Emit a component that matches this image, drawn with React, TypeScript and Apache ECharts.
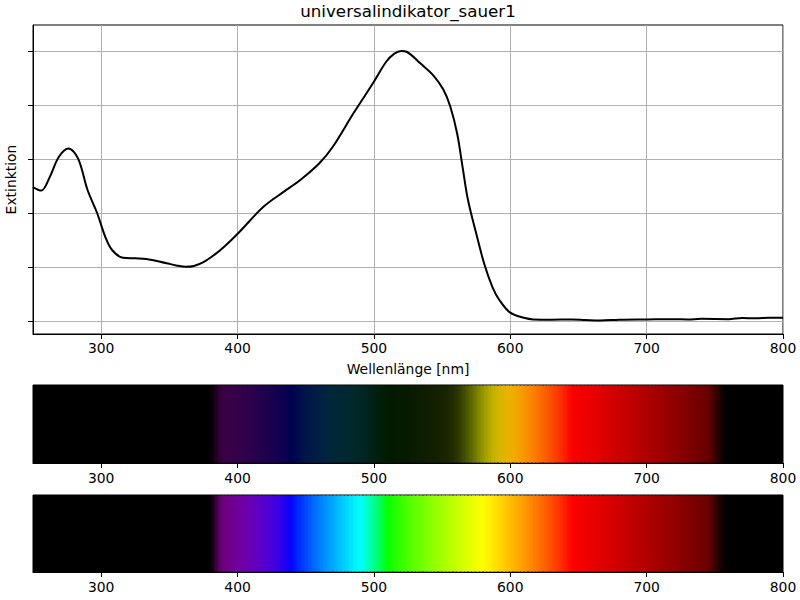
import React, { useEffect, useRef } from "react";
import * as echarts from "echarts";

const chartTitle = "universalindikator_sauer1";
const xName = "Wellenlänge [nm]";
const yName = "Extinktion";

const wavelengths = [
  250, 256, 262, 269, 276, 283, 290, 297, 303, 308, 316, 325, 333, 348, 355,
  362, 368, 375, 383, 390, 401, 419, 434, 446, 460, 470, 485, 500, 509, 515,
  520, 524, 534, 544, 551, 556, 561, 565, 569, 575, 581, 587, 592, 600, 610,
  617, 630, 645, 655, 666, 680, 700, 720, 730, 740, 760, 770, 780, 790, 800,
];
const extinction = [
  0.496, 0.483, 0.53, 0.608, 0.639, 0.602, 0.485, 0.4, 0.312, 0.263, 0.234, 0.232, 0.23, 0.214, 0.206,
  0.201, 0.204, 0.218, 0.245, 0.274, 0.328, 0.423, 0.479, 0.522, 0.584, 0.646, 0.769, 0.886, 0.96, 0.99,
  1.0, 0.997, 0.954, 0.907, 0.856, 0.794, 0.695, 0.571, 0.448, 0.325, 0.21, 0.125, 0.078, 0.031, 0.012,
  0.006, 0.005, 0.006, 0.004, 0.002, 0.005, 0.006, 0.007, 0.006, 0.008, 0.007, 0.011, 0.01, 0.012, 0.012,
];
const xTicks = [300, 400, 500, 600, 700, 800];
const yTicks = [0, 0.2, 0.4, 0.6, 0.8, 1.0];
const X_MIN = 250;
const X_MAX = 800;
const Y_MIN = -0.048;
const Y_MAX = 1.096;

const FONT = "DejaVu Sans";

function clamp(v: number, a: number, b: number) {
  return Math.max(a, Math.min(b, v));
}

function spectrumRGB(lIn: number): number[] {
  const g = 0.8;
  const l = clamp(lIn, 380, 750);
  let r = 0, gr = 0, b = 0;
  if (l >= 380 && l <= 440) {
    const a = 0.3 + (0.7 * (l - 380)) / 60;
    r = Math.pow(((440 - l) / 60) * a, g);
    b = Math.pow(a, g);
  } else if (l > 440 && l <= 490) {
    gr = Math.pow((l - 440) / 50, g);
    b = 1;
  } else if (l > 490 && l <= 510) {
    gr = 1;
    b = Math.pow((510 - l) / 20, g);
  } else if (l > 510 && l <= 580) {
    r = Math.pow((l - 510) / 70, g);
    gr = 1;
  } else if (l > 580 && l <= 645) {
    r = 1;
    gr = Math.pow((645 - l) / 65, g);
  } else {
    const a = 0.3 + (0.7 * (750 - l)) / 105;
    r = Math.pow(a, g);
  }
  const mask = clamp((lIn - 380) / 8, 0, 1) * clamp((758 - lIn) / 12, 0, 1);
  return [r * 255 * mask, gr * 255 * mask, b * 255 * mask];
}

function blurredRGB(l: number): number[] {
  const acc = [0, 0, 0];
  let n = 0;
  for (let k = -2; k <= 2; k += 0.5) {
    const c = spectrumRGB(l + k);
    acc[0] += c[0];
    acc[1] += c[1];
    acc[2] += c[2];
    n++;
  }
  return acc.map((v) => v / n);
}

function extinctionAt(l: number): number {
  if (l <= wavelengths[0]) return extinction[0];
  for (let i = 1; i < wavelengths.length; i++) {
    if (l <= wavelengths[i]) {
      const t = (l - wavelengths[i - 1]) / (wavelengths[i] - wavelengths[i - 1]);
      return extinction[i - 1] + t * (extinction[i] - extinction[i - 1]);
    }
  }
  return extinction[extinction.length - 1];
}

function toCss(c: number[]): string {
  const f = (v: number) => Math.max(0, Math.min(255, Math.round(v)));
  return `rgb(${f(c[0])},${f(c[1])},${f(c[2])})`;
}

const steps: number[] = [];
for (let l = X_MIN; l < X_MAX; l++) steps.push(l);

function makeRender(filtered: boolean) {
  return (params: any, api: any) => {
    const l = api.value(0);
    const p0 = api.coord([l, 0]);
    const p1 = api.coord([l + 1, 0]);
    const cs = params.coordSys;
    let c = blurredRGB(l + 0.5);
    if (filtered) {
      const T = Math.pow(10, -extinctionAt(l + 0.5));
      c = c.map((v) => v * T);
    }
    const x0 = Math.floor(p0[0]);
    const x1 = Math.min(Math.ceil(p1[0]), Math.round(cs.x + cs.width));
    return {
      type: "rect",
      shape: { x: x0, y: cs.y + 0.5, width: Math.max(1, x1 - x0), height: cs.height - 1 },
      style: { fill: toCss(c), stroke: null },
    };
  };
}

function spectrumXAxis(gridIndex: number, margin: number) {
  return {
    gridIndex,
    type: "value",
    min: X_MIN,
    max: X_MAX,
    axisLine: { show: true, onZero: false, lineStyle: { color: "#000", width: 1 } },
    axisTick: { show: true, inside: false, length: 5, customValues: xTicks, lineStyle: { color: "#000", width: 1 } },
    axisLabel: { show: true, customValues: xTicks, margin, fontSize: 13.9, color: "#000", fontFamily: FONT },
    splitLine: { show: false },
  };
}

export default function App() {
  const ref = useRef<HTMLDivElement>(null);
  useEffect(() => {
    if (!ref.current) return;
    const chart = echarts.init(ref.current, undefined, { renderer: "svg" });
    const option: any = {
      animation: false,
      textStyle: { fontFamily: FONT },
      graphic: [
        {
          type: "text",
          x: 408,
          y: 11,
          style: {
            text: chartTitle,
            align: "center",
            verticalAlign: "middle",
            fontSize: 16.7,
            fontFamily: FONT,
            fill: "#000",
          },
        },
      ],
      grid: [
        { left: 33, top: 25, width: 750, height: 309, show: true, borderColor: "#000", borderWidth: 1, backgroundColor: "transparent", containLabel: false, outerBoundsMode: "none" },
        { left: 33, top: 385, width: 750, height: 78, show: true, borderColor: "#000", borderWidth: 1, backgroundColor: "#000", containLabel: false, outerBoundsMode: "none" },
        { left: 33, top: 495, width: 750, height: 77, show: true, borderColor: "#000", borderWidth: 1, backgroundColor: "#000", containLabel: false, outerBoundsMode: "none" },
      ],
      xAxis: [
        {
          gridIndex: 0,
          type: "value",
          min: X_MIN,
          max: X_MAX,
          name: xName,
          nameLocation: "middle",
          nameGap: 28,
          nameTextStyle: { fontSize: 13.9, color: "#000", fontFamily: FONT },
          axisLine: { show: true, onZero: false, lineStyle: { color: "#000", width: 1 } },
          axisTick: { show: true, inside: false, length: 5, customValues: xTicks, lineStyle: { color: "#000", width: 1 } },
          axisLabel: { show: true, customValues: xTicks, margin: 7, fontSize: 13.9, color: "#000", fontFamily: FONT },
          splitLine: { show: true, lineStyle: { color: "#b0b0b0", width: 1 } },
        },
        spectrumXAxis(1, 8),
        spectrumXAxis(2, 8),
      ],
      yAxis: [
        {
          gridIndex: 0,
          type: "value",
          min: Y_MIN,
          max: Y_MAX,
          name: yName,
          nameLocation: "middle",
          nameGap: 15,
          nameRotate: 90,
          nameTextStyle: { fontSize: 13.9, color: "#000", fontFamily: FONT },
          axisLine: { show: true, onZero: false, lineStyle: { color: "#000", width: 1 } },
          axisTick: { show: true, inside: false, length: 5, customValues: yTicks, lineStyle: { color: "#000", width: 1 } },
          axisLabel: { show: false, customValues: yTicks },
          splitLine: { show: true, lineStyle: { color: "#b0b0b0", width: 1 } },
        },
        { gridIndex: 1, type: "value", min: 0, max: 1, show: false },
        { gridIndex: 2, type: "value", min: 0, max: 1, show: false },
      ],
      series: [
        {
          type: "line",
          xAxisIndex: 0,
          yAxisIndex: 0,
          data: wavelengths.map((w, i) => [w, extinction[i]]),
          showSymbol: false,
          smooth: 0.35,
          lineStyle: { color: "#000", width: 2 },
          clip: true,
          silent: true,
          z: 5,
        },
        {
          type: "custom",
          xAxisIndex: 1,
          yAxisIndex: 1,
          data: steps.map((l) => [l, 0.5]),
          encode: { x: 0, y: 1 },
          renderItem: makeRender(true),
          silent: true,
        },
        {
          type: "custom",
          xAxisIndex: 2,
          yAxisIndex: 2,
          data: steps.map((l) => [l, 0.5]),
          encode: { x: 0, y: 1 },
          renderItem: makeRender(false),
          silent: true,
        },
      ],
    };
    chart.setOption(option);
    return () => chart.dispose();
  }, []);
  return (
    <div
      ref={ref}
      style={{ position: "fixed", left: 0, top: 0, width: 800, height: 600, background: "#fff" }}
    />
  );
}
